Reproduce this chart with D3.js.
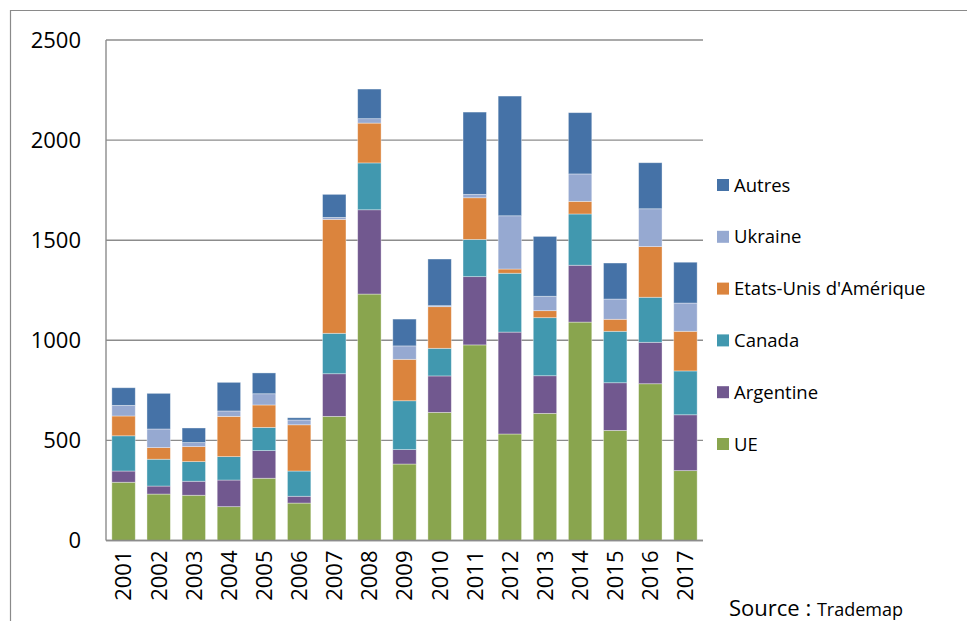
<!DOCTYPE html>
<html>
<head>
<meta charset="utf-8">
<script src="https://cdn.jsdelivr.net/npm/d3@7"></script>
<style>
  html, body { margin: 0; padding: 0; background: #fff; }
  svg { display: block; font-family: "Open Sans", sans-serif; }
</style>
</head>
<body>
<svg id="chart" width="967" height="623"></svg>
<script>
// Imports by origin, 2001-2017 (stacked)
const years = ["2001","2002","2003","2004","2005","2006","2007","2008","2009","2010","2011","2012","2013","2014","2015","2016","2017"];
const ue        = [291, 232, 226, 169, 311, 187, 620, 1231, 382, 640, 977, 532, 635, 1091, 550, 783, 349];
const argentine = [ 56,  40,  70, 133, 138,  34, 213,  421,  72, 182, 341, 509, 188,  284, 238, 207, 279];
const canada    = [176, 134,  98, 117, 116, 126, 202,  234, 244, 138, 186, 294, 290,  256, 257, 225, 219];
const usa       = [ 99,  58,  75, 201, 112, 231, 569,  199, 207, 208, 208,  21,  35,   63,  60, 253, 198];
const ukraine   = [ 53,  93,  20,  27,  56,  24,  10,   22,  67,   5,  17, 266,  72,  137, 101, 189, 141];
const autres    = [ 88, 178,  73, 143, 104,  11, 115,  148, 134, 233, 411, 598, 299,  306, 180, 230, 204];
const yTicks = [0, 500, 1000, 1500, 2000, 2500];

// Series in stacking order (bottom to top)
const seriesDefs = [
  { key: "UE",                    values: ue,        color: "#89A54E" },
  { key: "Argentine",             values: argentine, color: "#71588F" },
  { key: "Canada",                values: canada,    color: "#4198AF" },
  { key: "Etats-Unis d'Amérique", values: usa,       color: "#DB843D" },
  { key: "Ukraine",               values: ukraine,   color: "#96A9D1" },
  { key: "Autres",                values: autres,    color: "#4572A7" }
];

const rows = years.map((y, i) => {
  const r = { year: y };
  seriesDefs.forEach(s => { r[s.key] = s.values[i]; });
  return r;
});

const svg = d3.select("#chart");
const plot = { left: 106, right: 703, top: 40, bottom: 540.5 };

const x = d3.scaleBand()
  .domain(years)
  .range([plot.left, plot.right])
  .paddingInner(1 / 3)
  .paddingOuter(1 / 6);

const y = d3.scaleLinear()
  .domain([0, 2500])
  .range([plot.bottom, plot.top]);

// Outer frame
svg.append("path")
  .attr("d", "M10.5,621 V10.5 H967")
  .attr("fill", "none")
  .attr("stroke", "#8a8a8a")
  .attr("stroke-width", 1.2);

// Horizontal gridlines
svg.append("g")
  .selectAll("line")
  .data(yTicks)
  .join("line")
  .attr("x1", plot.left)
  .attr("x2", plot.right)
  .attr("y1", d => y(d))
  .attr("y2", d => y(d))
  .attr("stroke", "#8c8c8c")
  .attr("stroke-width", 1.4);

// Stacked bars
const stack = d3.stack().keys(seriesDefs.map(s => s.key));
const stacked = stack(rows);

svg.append("g")
  .selectAll("g")
  .data(stacked)
  .join("g")
  .attr("fill", (d, i) => seriesDefs[i].color)
  .selectAll("rect")
  .data(d => d)
  .join("rect")
  .attr("x", d => x(d.data.year))
  .attr("width", x.bandwidth())
  .attr("y", d => y(d[1]))
  .attr("height", d => y(d[0]) - y(d[1]))
  .attr("stroke", "#ffffff")
  .attr("stroke-opacity", 0.45)
  .attr("stroke-width", 0.8);

// Axis lines
svg.append("line")
  .attr("x1", plot.left).attr("x2", plot.left)
  .attr("y1", plot.top).attr("y2", plot.bottom)
  .attr("stroke", "#8c8c8c").attr("stroke-width", 1.4);
svg.append("line")
  .attr("x1", plot.left).attr("x2", plot.right)
  .attr("y1", plot.bottom).attr("y2", plot.bottom)
  .attr("stroke", "#8c8c8c").attr("stroke-width", 1.4);

// Y axis labels
const yAxis = d3.axisLeft(y).tickValues(yTicks).tickFormat(d3.format("d")).tickSize(0).tickPadding(25);
const gy = svg.append("g")
  .attr("transform", `translate(${plot.left},0)`)
  .call(yAxis);
gy.select(".domain").remove();
gy.selectAll("text")
  .attr("font-family", "Open Sans, sans-serif")
  .attr("font-size", 22)
  .attr("fill", "#000");

// X axis labels (rotated)
const xAxis = d3.axisBottom(x).tickSize(0).tickPadding(0);
const gx = svg.append("g")
  .attr("transform", `translate(0,${plot.bottom})`)
  .call(xAxis);
gx.select(".domain").remove();
gx.selectAll("text")
  .attr("font-family", "Open Sans, sans-serif")
  .attr("font-size", 22)
  .attr("fill", "#000")
  .attr("transform", "rotate(-90)")
  .attr("text-anchor", "end")
  .attr("x", -10)
  .attr("y", 0)
  .attr("dy", "0.36em");

// Legend (top to bottom: reverse stacking order)
const legendItems = seriesDefs.slice().reverse();
const legend = svg.append("g")
  .selectAll("g")
  .data(legendItems)
  .join("g")
  .attr("transform", (d, i) => `translate(717,${185 + i * 51.8})`);
legend.append("rect")
  .attr("x", 0).attr("y", -6)
  .attr("width", 12).attr("height", 12)
  .attr("fill", d => d.color);
legend.append("text")
  .attr("x", 17)
  .attr("y", 6.5)
  .attr("font-size", 18.5)
  .attr("fill", "#000")
  .text(d => d.key);

// Source note
const src = svg.append("text")
  .attr("x", 729)
  .attr("y", 616)
  .attr("fill", "#000");
src.append("tspan").attr("font-size", 22).text("Source : ");
src.append("tspan").attr("font-size", 18).text("Trademap");
</script>
</body>
</html>
